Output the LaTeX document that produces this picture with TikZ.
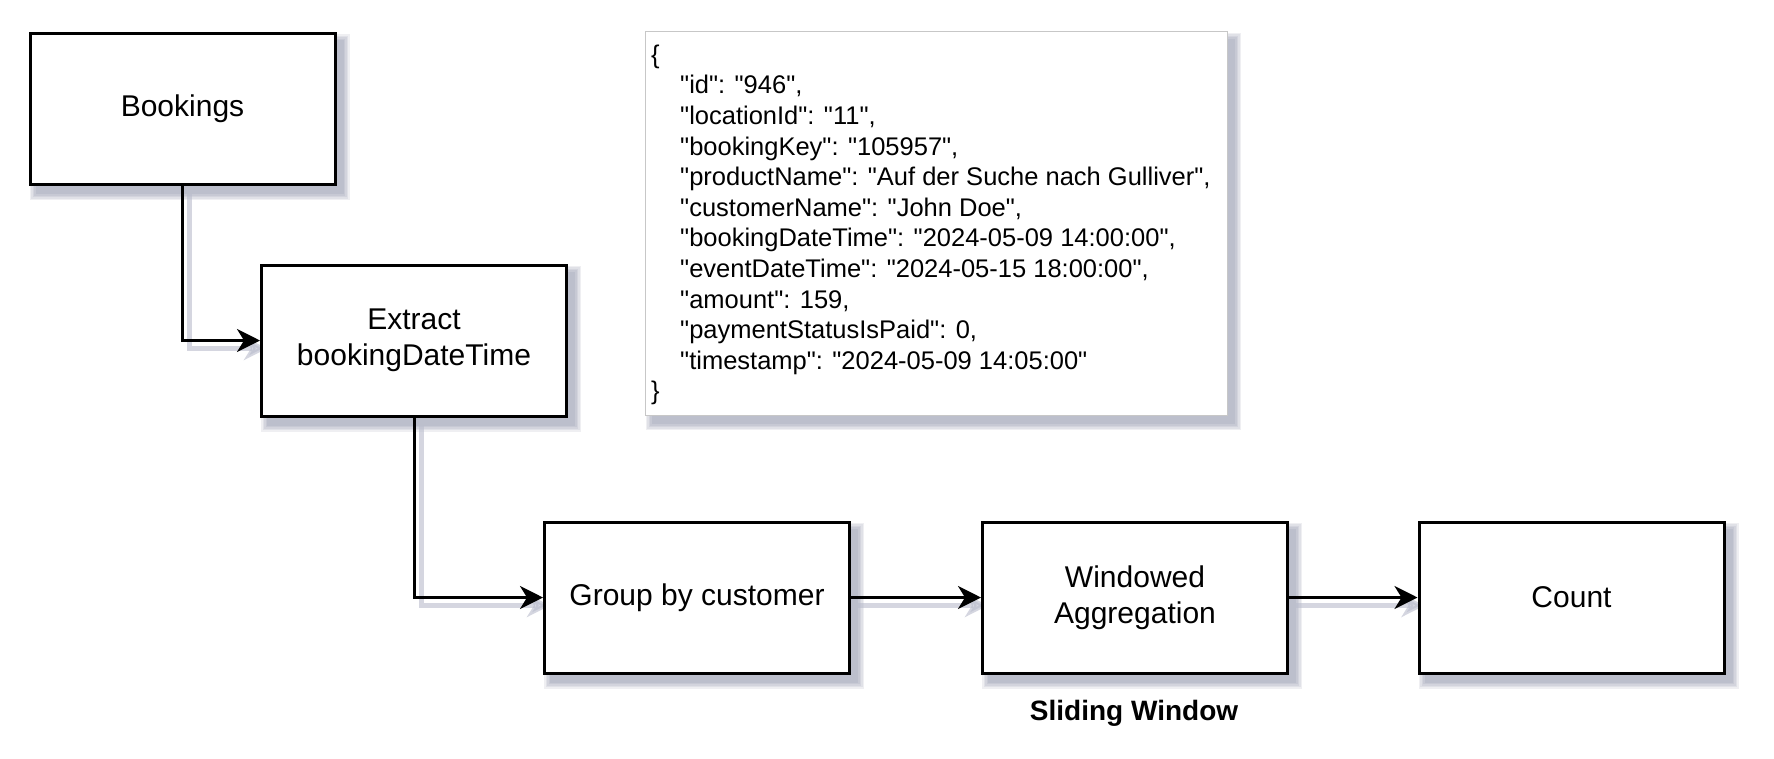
\documentclass[tikz,border=0pt]{standalone}
\usepackage{fontspec}
\setmainfont{Liberation Sans}[Ligatures=TeXOff]
\usetikzlibrary{arrows.meta}
\definecolor{shc}{RGB}{185,188,204}
\definecolor{shd}{RGB}{100,105,135}
\pgfdeclarelayer{back}
\pgfdeclarelayer{bg}
\pgfsetlayers{back,bg,main}
\newcommand{\softshadow}[1]{%
  \foreach \r in {0,1.5,3,4.5,6}{%
    \fill[shd, opacity=0.1] ([xshift=7pt-\r pt, yshift=-8pt+\r pt]#1.north west) rectangle ([xshift=7pt+\r pt, yshift=-8pt-\r pt]#1.south east);
  }}
\begin{document}
\begin{tikzpicture}[x=1pt,y=-1pt,
  box/.style={draw=black, line width=3pt, fill=white, minimum width=305pt, minimum height=151pt,
    inner sep=0pt, align=center, font=\fontsize{30}{36}\selectfont},
  jbox/.style={draw=black!22, line width=1.2pt, fill=white, inner sep=0pt},
  conn/.style={line width=3pt, -{Stealth[length=23pt,width=23pt,inset=7pt]}},
  connsh/.style={line width=5pt, draw=shc, opacity=0.6, -{Stealth[length=23pt,width=23pt,inset=7pt]},
    transform canvas={shift={(7pt,-8pt)}}},
]
\begin{pgfonlayer}{back}
\fill[white] (0,0) rectangle (1774,758);
\end{pgfonlayer}
\useasboundingbox (0,0) rectangle (1774,758);

\node[box] (book) at (182.5,109) {Bookings};
\node[box] (extr) at (414,340.5) {Extract\\bookingDateTime};
\node[box] (grp) at (697,597.5) {Group by customer};
\node[box] (win) at (1135,597.5) {Windowed\\Aggregation};
\node[box] (cnt) at (1571.5,597.5) {Count};

\node[jbox, minimum width=582pt, minimum height=384pt] (json) at (936.5,223.5) {};
\node[anchor=west, align=left, inner sep=0pt, font=\fontsize{25.5}{30.6}\selectfont] (jtxt) at (651,225)
{\{\\
\hspace*{29pt}"id": "946",\\
\hspace*{29pt}"locationId": "11",\\
\hspace*{29pt}"bookingKey": "105957",\\
\hspace*{29pt}"productName": "Auf der Suche nach Gulliver",\\
\hspace*{29pt}"customerName": "John Doe",\\
\hspace*{29pt}"bookingDateTime": "2024-05-09 14:00:00",\\
\hspace*{29pt}"eventDateTime": "2024-05-15 18:00:00",\\
\hspace*{29pt}"amount": 159,\\
\hspace*{29pt}"paymentStatusIsPaid": 0,\\
\hspace*{29pt}"timestamp": "2024-05-09 14:05:00"\\
\}};

\node[font=\bfseries\fontsize{28}{34}\selectfont] (sw) at (1134,713) {Sliding Window};

\begin{pgfonlayer}{bg}
\softshadow{book}
\softshadow{extr}
\softshadow{grp}
\softshadow{win}
\softshadow{cnt}
\softshadow{json}
\draw[connsh] (book.south) |- (extr.west);
\draw[connsh] (extr.south) |- (grp.west);
\draw[connsh] (grp.east) -- (win.west);
\draw[connsh] (win.east) -- (cnt.west);
\end{pgfonlayer}

\draw[conn] (book.south) |- (extr.west);
\draw[conn] (extr.south) |- (grp.west);
\draw[conn] (grp.east) -- (win.west);
\draw[conn] (win.east) -- (cnt.west);
\end{tikzpicture}
\end{document}
